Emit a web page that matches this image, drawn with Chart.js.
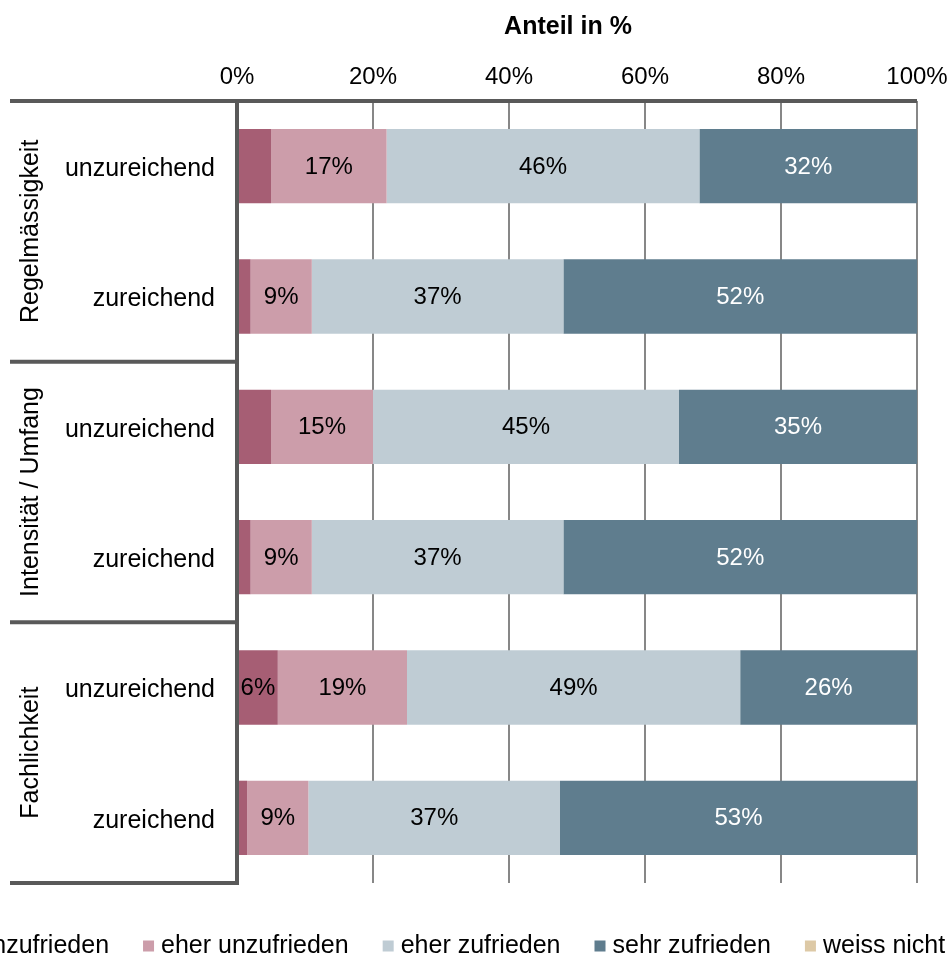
<!DOCTYPE html>
<html lang="de">
<head>
<meta charset="utf-8">
<title>Zufriedenheit nach Beurteilung</title>
<script src="https://cdn.jsdelivr.net/npm/chart.js@4/dist/chart.umd.min.js"></script>
<style>
  html, body { margin: 0; padding: 0; background: #ffffff; }
  #wrap { position: relative; width: 951px; height: 956px; }
</style>
</head>
<body>
<div id="wrap"><canvas id="chart" width="951" height="956"></canvas></div>
<script>
// Rows: rating (unzureichend / zureichend) within each aspect group
const categories = ['unzureichend', 'zureichend', 'unzureichend', 'zureichend', 'unzureichend', 'zureichend'];
const groups = ['Regelmässigkeit', 'Intensität / Umfang', 'Fachlichkeit'];
const rowsPerGroup = 2;

// Shares in percent per answer category
const sehrUnzufrieden = [5, 2, 5, 2, 6, 1.5];
const eherUnzufrieden = [17, 9, 15, 9, 19, 9];
const eherZufrieden   = [46, 37, 45, 37, 49, 37];
const sehrZufrieden   = [32, 52, 35, 52, 26, 53];
const weissNicht      = [0, 0, 0, 0, 0, 0];

const seriesLabels = ['sehr unzufrieden', 'eher unzufrieden', 'eher zufrieden', 'sehr zufrieden', 'weiss nicht'];
const seriesColors = ['#A65E74', '#CC9DAA', '#BFCCD4', '#5F7D8E', '#DDC9A6'];
const labelColors  = ['#000000', '#000000', '#000000', '#ffffff', '#000000'];
const xTicks = [0, 20, 40, 60, 80, 100];
const axisTitle = 'Anteil in %';

const FONT = '"Liberation Sans", Arial, sans-serif';
const FRAME = '#595959';

const seriesData = [sehrUnzufrieden, eherUnzufrieden, eherZufrieden, sehrZufrieden, weissNicht];

// Axis title, frame lines, group labels, value labels and the legend
const decorations = {
  id: 'decorations',
  afterDatasetsDraw(chart) {
    const ctx = chart.ctx;
    const area = chart.chartArea;
    const y = chart.scales.y;
    const frameLeft = 10;

    // axis title above the tick labels
    ctx.save();
    ctx.font = 'bold 25px ' + FONT;
    ctx.fillStyle = '#000000';
    ctx.textAlign = 'center';
    ctx.textBaseline = 'middle';
    ctx.fillText(axisTitle, 568, 27);
    ctx.restore();

    // value labels inside the segments
    ctx.save();
    ctx.font = '24px ' + FONT;
    ctx.textAlign = 'center';
    ctx.textBaseline = 'middle';
    chart.data.datasets.forEach((ds, di) => {
      const meta = chart.getDatasetMeta(di);
      meta.data.forEach((bar, i) => {
        const v = ds.data[i];
        if (v < 6) return;
        const right = Math.min(bar.x, area.right);
        const cx = (right + bar.base) / 2;
        ctx.fillStyle = labelColors[di];
        ctx.fillText(Math.round(v) + '%', cx, bar.y + 1);
      });
    });
    ctx.restore();

    // frame: top line, left axis line, group separators
    ctx.save();
    ctx.strokeStyle = FRAME;
    ctx.lineWidth = 4;
    ctx.lineCap = 'butt';
    ctx.beginPath();
    ctx.moveTo(frameLeft, area.top);
    ctx.lineTo(area.right, area.top);
    ctx.stroke();
    ctx.beginPath();
    ctx.moveTo(area.left, area.top - 2);
    ctx.lineTo(area.left, area.bottom + 2);
    ctx.stroke();
    const n = categories.length;
    for (let g = 1; g <= groups.length; g++) {
      const idx = g * rowsPerGroup;
      const yy = idx >= n ? area.bottom
        : (y.getPixelForValue(idx - 1) + y.getPixelForValue(idx)) / 2;
      ctx.beginPath();
      ctx.moveTo(frameLeft, yy);
      ctx.lineTo(area.left + 2, yy);
      ctx.stroke();
    }

    // rotated group labels
    ctx.fillStyle = '#000000';
    ctx.font = '25px ' + FONT;
    ctx.textAlign = 'center';
    ctx.textBaseline = 'middle';
    groups.forEach((g, gi) => {
      const first = gi * rowsPerGroup;
      const last = first + rowsPerGroup - 1;
      const cy = (y.getPixelForValue(first) + y.getPixelForValue(last)) / 2;
      ctx.save();
      ctx.translate(31, cy);
      ctx.rotate(-Math.PI / 2);
      ctx.fillText(g, 0, 0);
      ctx.restore();
    });
    ctx.restore();

    // legend along the bottom
    ctx.save();
    ctx.font = '25px ' + FONT;
    ctx.textBaseline = 'middle';
    ctx.textAlign = 'left';
    const box = 11, boxGap = 7, itemGap = 34;
    const widths = seriesLabels.map(t => ctx.measureText(t).width);
    const total = widths.reduce((a, w) => a + box + boxGap + w, 0) + itemGap * (seriesLabels.length - 1);
    let x = 425 - total / 2;
    const ly = 946;
    seriesLabels.forEach((t, i) => {
      ctx.fillStyle = seriesColors[i];
      ctx.fillRect(x, ly - box / 2, box, box);
      ctx.fillStyle = '#000000';
      ctx.fillText(t, x + box + boxGap, ly);
      x += box + boxGap + widths[i] + itemGap;
    });
    ctx.restore();
  }
};

new Chart(document.getElementById('chart'), {
  type: 'bar',
  data: {
    labels: categories,
    datasets: seriesData.map((d, i) => ({
      label: seriesLabels[i],
      data: d,
      backgroundColor: seriesColors[i],
      borderWidth: 0,
      categoryPercentage: 1,
      barPercentage: 0.57
    }))
  },
  options: {
    indexAxis: 'y',
    responsive: false,
    animation: false,
    layout: { padding: { left: 0, right: 34, top: 40, bottom: 73 } },
    plugins: {
      legend: { display: false },
      tooltip: { enabled: false },
      title: { display: false }
    },
    scales: {
      x: {
        position: 'top',
        stacked: true,
        min: 0,
        max: 100,
        afterBuildTicks(scale) {
          scale.ticks = xTicks.map(v => ({ value: v }));
        },
        afterFit(scale) {
          scale.height = 61;
          scale.paddingLeft = 0;
          scale.paddingRight = 0;
        },
        ticks: {
          color: '#000000',
          font: { family: FONT, size: 24 },
          padding: 9,
          callback: v => v + '%'
        },
        grid: { color: '#878787', lineWidth: 2, drawTicks: false },
        border: { display: false }
      },
      y: {
        stacked: true,
        afterFit(scale) { scale.width = 237; },
        ticks: {
          color: '#000000',
          font: { family: FONT, size: 25 },
          padding: 22,
          labelOffset: 3
        },
        grid: { display: false, drawTicks: false },
        border: { display: false }
      }
    }
  },
  plugins: [decorations]
});
</script>
</body>
</html>
